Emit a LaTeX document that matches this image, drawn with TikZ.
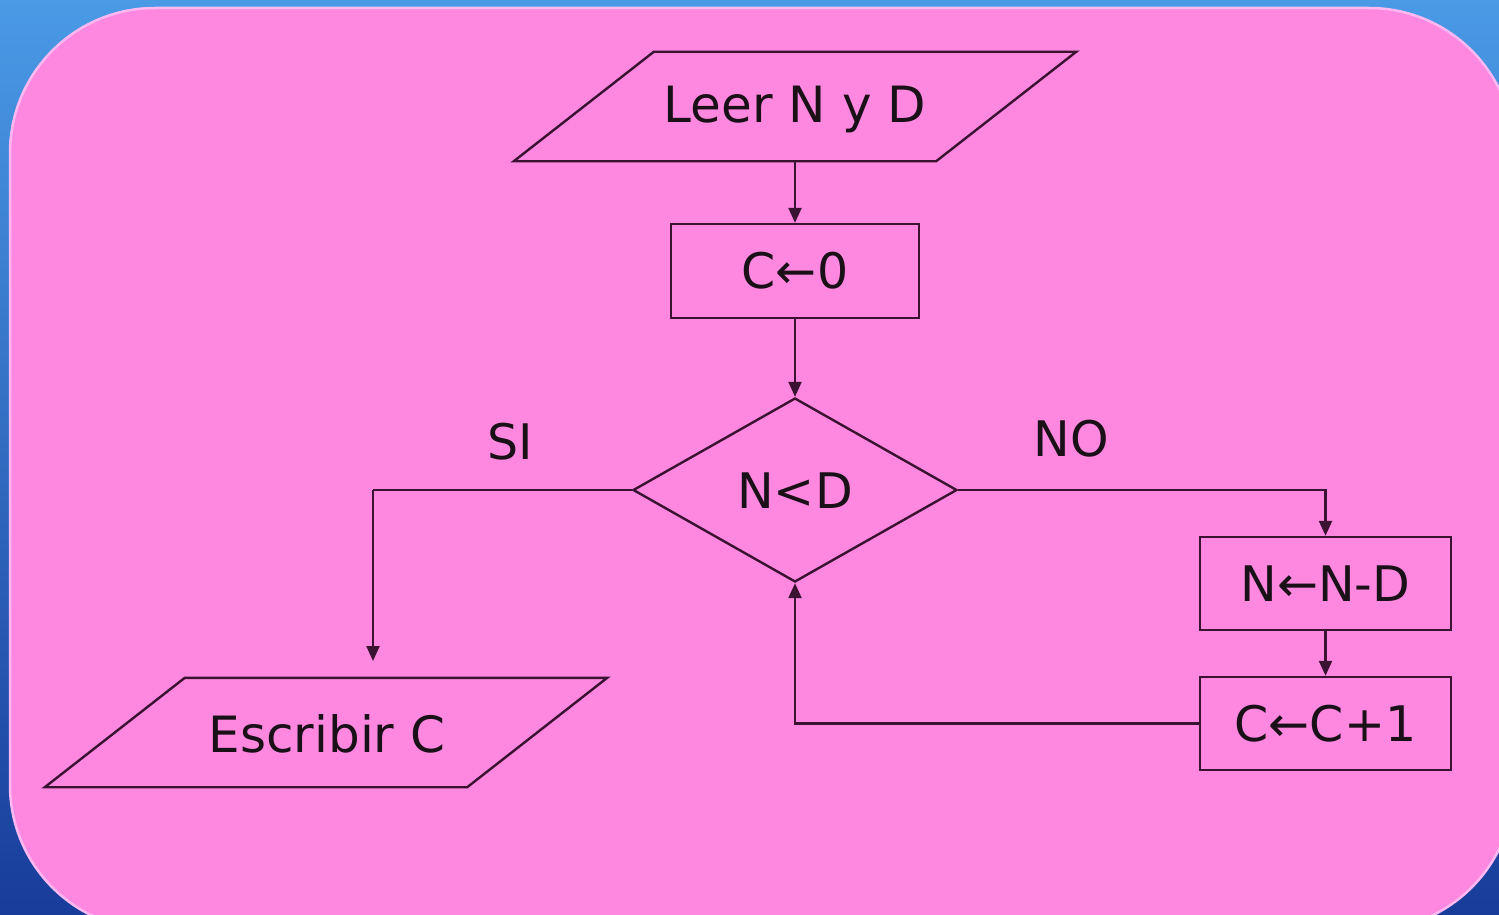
\documentclass[tikz,border=0pt]{standalone}
\usepackage{fontspec}
\setmainfont{DejaVu Sans}
\usetikzlibrary{arrows.meta,calc,shapes.geometric}
\definecolor{bgtop}{HTML}{4A9AE6}
\definecolor{bgbot}{HTML}{183C9A}
\definecolor{pinkfill}{HTML}{FE88E0}
\definecolor{pinkedge}{HTML}{FFB8F2}
\definecolor{linecol}{HTML}{3A1232}
\definecolor{textcol}{HTML}{1A1018}
\tikzset{
  flow/.style={draw=linecol, line width=2.4pt},
  arr/.style={flow, -{Triangle[length=15pt,width=13pt]}},
  boxnode/.style={draw=linecol, line width=2.4pt, minimum width=250pt, minimum height=93pt, inner sep=0pt, font=\fontsize{49}{55}\selectfont, text=textcol},
  txt/.style={inner sep=0pt, font=\fontsize{49}{55}\selectfont, text=textcol},
  ionode/.style={inner sep=0pt, minimum width=422pt, minimum height=109pt, font=\fontsize{50}{56}\selectfont, text=textcol},
}
\begin{document}
\begin{tikzpicture}[x=1pt,y=-1pt]
\useasboundingbox (0,0) rectangle (1499,915);
\clip (0,0) rectangle (1499,915);
\shade[top color=bgtop, bottom color=bgbot] (0,0) rectangle (1499,915);
\filldraw[fill=pinkfill, draw=pinkedge, line width=2.5pt, rounded corners=145pt] (10,8) rectangle (1514,930);

% nodes
\node[ionode] (leer) at (795,106.5) {};
\node[txt, font=\fontsize{50}{56}\selectfont] (leert) at (795,109) {Leer N y D};
\draw[flow] ($(leer.south west)+(-70,0)$) -- ($(leer.south east)+(-70,0)$) -- ($(leer.north east)+(70,0)$) -- ($(leer.north west)+(70,0)$) -- cycle;

\node[boxnode, minimum width=248pt, minimum height=94pt] (c0) at (795,271) {C←0};

\node[draw=linecol, line width=2.4pt, diamond, minimum width=324pt, minimum height=184pt, inner sep=0pt] (cond) at (795,490) {};
\node[txt] (condt) at (795,491) {N<D};

\node[boxnode, minimum width=251pt] (nnd) at (1325.5,583.5) {N←N-D};
\node[boxnode, minimum width=251pt] (cc1) at (1325.5,723.5) {C←C+1};

\node[ionode] (escr) at (326,732.5) {};
\node[txt, font=\fontsize{50}{56}\selectfont] (escrt) at (327,734) {Escribir C};
\draw[flow] ($(escr.south west)+(-70,0)$) -- ($(escr.south east)+(-70,0)$) -- ($(escr.north east)+(70,0)$) -- ($(escr.north west)+(70,0)$) -- cycle;

\node[txt] (si) at (510,442) {SI};
\node[txt] (no) at (1071,439) {NO};

\coordinate (sicorner) at (373,490);
\coordinate (siend) at (373,661);
\coordinate (nocorner) at (1325.5,490);
\coordinate (backcorner) at (795,723.5);

% connectors
\draw[arr] (leer.south) -- (c0.north);
\draw[arr] (c0.south) -- (cond.north);
\draw[flow] (cond.west) -- (sicorner);
\draw[arr] (sicorner) -- (siend);
\draw[arr] (cond.east) -- (nocorner) -- (nnd.north);
\draw[arr] (nnd.south) -- (cc1.north);
\draw[arr] (cc1.west) -- (backcorner) -- (cond.south);
\end{tikzpicture}
\end{document}
